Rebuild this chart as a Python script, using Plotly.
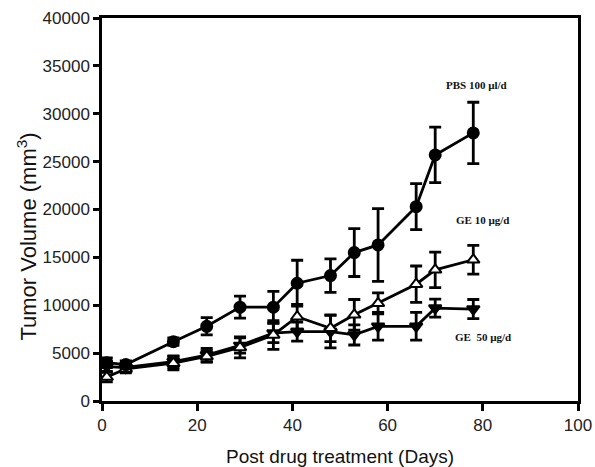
import plotly.graph_objects as go

days = [1, 5, 15, 22, 29, 36, 41, 48, 53, 58, 66, 70, 78]
pbs = [4000, 3800, 6200, 7800, 9800, 9800, 12300, 13100, 15500, 16300, 20300, 25700, 28000]
pbs_err = [500, 400, 400, 900, 1150, 1650, 2400, 1750, 2500, 3800, 2400, 2900, 3200]
ge10 = [2500, 3350, 3950, 4650, 5600, 6900, 8800, 7600, 9000, 10200, 12200, 13700, 14750]
ge10_err = [500, 400, 700, 600, 1100, 1500, 1300, 1400, 1600, 1100, 1900, 1850, 1500]
ge50 = [3600, 3500, 4100, 4800, 5800, 7100, 7250, 7250, 6900, 7800, 7800, 9700, 9600]
ge50_err = [500, 400, 600, 700, 800, 1000, 1000, 1700, 1050, 1450, 1450, 950, 1000]

labels = ["PBS 100 \u00b5l/d", "GE 10 \u00b5g/d", "GE  50 \u00b5g/d"]
label_x = [78.6, 80, 80]
label_y = [33000, 18900, 6700]

x_ticks = [0, 20, 40, 60, 80, 100]
y_ticks = [0, 5000, 10000, 15000, 20000, 25000, 30000, 35000, 40000]
y_ticktext = ["0", "5000", "10000", "15000", "20000", "25000", "30000", "35000", "40000"]

fig = go.Figure()

def add_series(y, err, symbol, color):
    fig.add_trace(go.Scatter(
        x=days, y=y, mode="lines+markers",
        line=dict(color="black", width=2.8),
        marker=dict(symbol=symbol, size=11, color=color,
                    line=dict(color="black", width=2)),
        error_y=dict(type="data", array=err, visible=True,
                     color="black", thickness=2.8, width=6),
        showlegend=False,
    ))

add_series(ge50, ge50_err, "triangle-down", "black")
add_series(ge10, ge10_err, "triangle-up", "white")
add_series(pbs, pbs_err, "circle", "black")

for t, lx, ly in zip(labels, label_x, label_y):
    fig.add_annotation(x=lx, y=ly, text="<b>" + t + "</b>", showarrow=False,
                       font=dict(family="Liberation Serif", size=11, color="#111"),
                       xanchor="center", yanchor="middle")

fig.add_annotation(xref="paper", yref="paper", x=-0.157, y=0.43,
                   text="Tumor Volume (mm<sup>3</sup>)", textangle=-90,
                   showarrow=False, xanchor="center", yanchor="middle",
                   font=dict(family="Liberation Sans, Arial", size=22, color="#111"))

fig.update_layout(
    width=595, height=467,
    margin=dict(l=102, r=17, t=18, b=66),
    paper_bgcolor="white", plot_bgcolor="white",
    font=dict(family="Liberation Sans, Arial", color="#222"),
)
fig.update_xaxes(range=[0, 100], tickvals=x_ticks, ticks="outside", ticklen=7,
                 tickwidth=2.5, tickcolor="black", showline=True, linecolor="black",
                 linewidth=2.5, mirror=True, showgrid=False, zeroline=False,
                 automargin=False,
                 tickfont=dict(size=17, color="#222"),
                 title=dict(text="Post drug treatment (Days)", font=dict(size=19, color="#111"), standoff=16))
fig.update_yaxes(range=[0, 40000], tickvals=y_ticks, ticktext=y_ticktext, ticks="outside", ticklen=6,
                 tickwidth=2.5, tickcolor="black", showline=True, linecolor="black",
                 linewidth=2.5, mirror=True, showgrid=False, zeroline=False,
                 automargin=False,
                 tickfont=dict(size=17, color="#222"))

fig.write_html("out.html")
